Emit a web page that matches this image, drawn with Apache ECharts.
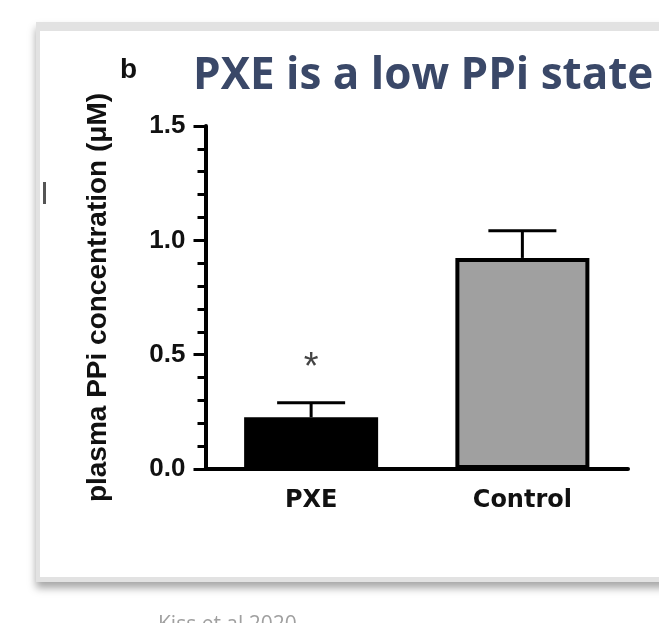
<!DOCTYPE html>
<html>
<head>
<meta charset="utf-8">
<script src="https://cdn.jsdelivr.net/npm/echarts@6/dist/echarts.min.js"></script>
<style>
html,body{margin:0;padding:0;background:#fff;}
#chart{width:659px;height:623px;}
</style>
</head>
<body>
<div id="chart"></div>
<script>
// ---- data ----
const categories = ['PXE', 'Control'];
const means = [0.226, 0.923];
const errors = [0.064, 0.119];
const sigMarks = ['*', ''];
const barColors = ['#000000', '#a0a0a0'];
const yTicks = { min: 0, max: 1.5, interval: 0.5 };
const titleText = 'PXE is a low PPi state';
const panelLetter = 'b';
const yAxisName = 'plasma PPi concentration (\u03bcM)';
const sourceText = 'Kiss et al 2020';

const barData = means.map((v, i) => ({
  value: v,
  itemStyle: { color: barColors[i], borderColor: '#000', borderWidth: 4 }
}));
const errData = means.map((v, i) => [i, v, v + errors[i], sigMarks[i]]);

const chart = echarts.init(document.getElementById('chart'), null, { renderer: 'canvas' });

chart.setOption({
  animation: false,
  backgroundColor: '#ffffff',
  graphic: [
    { type: 'rect', z: -20, silent: true,
      shape: { x: 36, y: 22, width: 700, height: 560 },
      style: { fill: '#e2e2e2', shadowBlur: 8, shadowOffsetY: 6, shadowColor: 'rgba(0,0,0,0.35)' } },
    { type: 'rect', z: -19, silent: true,
      shape: { x: 40, y: 31, width: 700, height: 546 },
      style: { fill: '#ffffff' } },
    { type: 'rect', z: -18, silent: true,
      shape: { x: 43, y: 182, width: 3, height: 22 },
      style: { fill: '#555555' } }
  ],
  title: [
    { text: titleText, left: 188, top: 49,
      textStyle: { fontFamily: 'Open Sans', fontWeight: 'bold', fontSize: 44, color: '#3a4868' } },
    { text: panelLetter, left: 115, top: 51,
      textStyle: { fontFamily: 'Liberation Sans', fontWeight: 'bold', fontSize: 28, color: '#111' } },
    { text: sourceText, left: 153, top: 610,
      textStyle: { fontFamily: 'Open Sans', fontWeight: 'normal', fontSize: 21, color: '#a0a0a0' } }
  ],
  grid: { left: 205.5, right: 31, top: 126, bottom: 154, containLabel: false },
  xAxis: {
    type: 'category',
    data: categories,
    axisLine: { show: true, lineStyle: { color: '#000', width: 4 } },
    axisTick: { show: false },
    axisLabel: { fontFamily: 'DejaVu Sans', fontWeight: 'bold', fontSize: 24, color: '#111', margin: 20 },
    splitLine: { show: false }
  },
  yAxis: {
    type: 'value',
    min: yTicks.min, max: yTicks.max, interval: yTicks.interval,
    name: yAxisName,
    nameLocation: 'middle',
    nameRotate: 90,
    nameGap: 93,
    nameTextStyle: { fontFamily: 'Liberation Sans', fontWeight: 'bold', fontSize: 28, color: '#111' },
    axisLine: { show: true, lineStyle: { color: '#000', width: 4 } },
    axisTick: { show: true, inside: false, length: 12, lineStyle: { color: '#000', width: 3 } },
    minorTick: { show: true, splitNumber: 5, length: 8, lineStyle: { color: '#000', width: 3 } },
    axisLabel: { fontFamily: 'Liberation Sans', fontWeight: 'bold', fontSize: 26, color: '#111', margin: 20,
      formatter: v => v.toFixed(1) },
    splitLine: { show: false }
  },
  series: [
    { type: 'bar', data: barData, barWidth: 134, z: 2 },
    { type: 'custom', z: 3, data: errData,
      renderItem: function (params, api) {
        const base = api.coord([api.value(0), api.value(1)]);
        const top = api.coord([api.value(0), api.value(2)]);
        const half = 34;
        const mark = errData[params.dataIndex][3];
        const children = [
          { type: 'line', shape: { x1: base[0], y1: base[1], x2: top[0], y2: top[1] },
            style: { stroke: '#000', lineWidth: 3 } },
          { type: 'line', shape: { x1: top[0] - half, y1: top[1], x2: top[0] + half, y2: top[1] },
            style: { stroke: '#000', lineWidth: 3 } }
        ];
        if (mark) {
          children.push({ type: 'text', x: top[0], y: top[1] - 34,
            style: { text: mark, fill: '#444', font: 'normal 38px "Liberation Sans"', align: 'center', verticalAlign: 'middle' } });
        }
        return { type: 'group', children: children };
      }
    }
  ]
});
</script>
</body>
</html>
